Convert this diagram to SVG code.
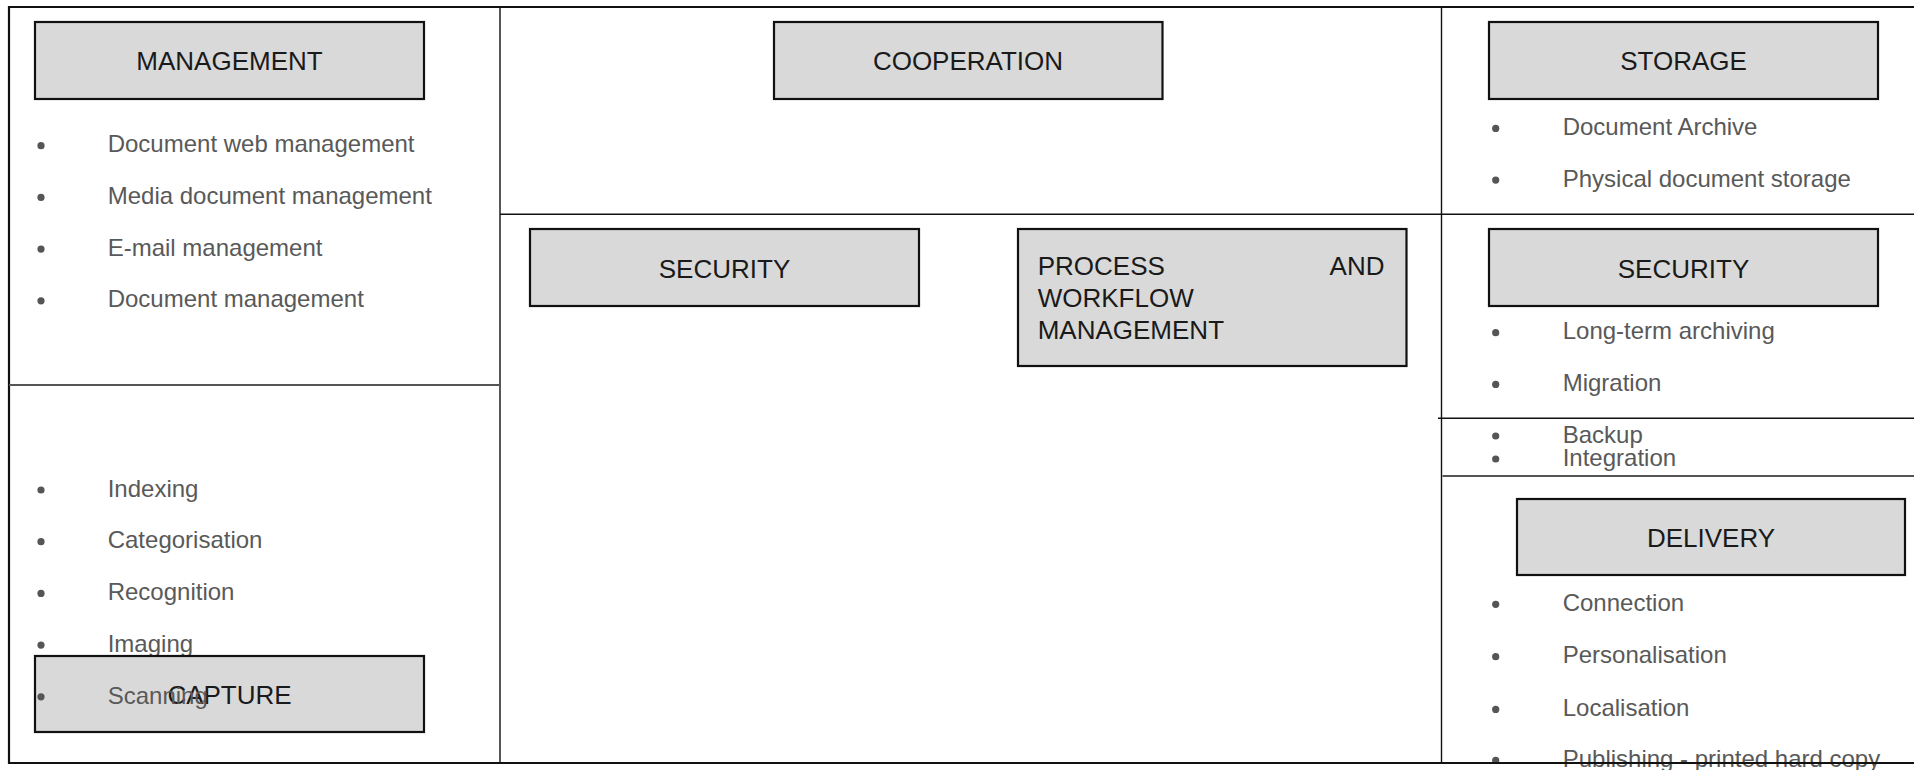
<svg xmlns="http://www.w3.org/2000/svg" width="1914" height="770" viewBox="0 0 1914 770">
<style>
.box{fill:#d9d9d9;stroke:#111;stroke-width:2.2}
.title{font-family:"Liberation Sans",Arial,sans-serif;font-size:26px;fill:#1a1a1a}
.item{font-family:"Liberation Sans",Arial,sans-serif;font-size:24px;fill:#595959}
.dot{fill:#555}
.ln{stroke:#111;stroke-width:1.4;fill:none}
.lg{stroke:#555;stroke-width:1.8;fill:none}
</style>
<rect width="1914" height="770" fill="#fff"/>
<g id="frame">
<path d="M1920 7 H9 V763 H1920" fill="none" stroke="#111" stroke-width="2.2"/>
<line class="ln" x1="500" y1="7" x2="500" y2="763"/>
<line class="ln" x1="1441.5" y1="7" x2="1441.5" y2="763"/>
<line class="lg" x1="9" y1="385" x2="500" y2="385"/>
<line class="ln" x1="500" y1="214.3" x2="1914" y2="214.3"/>
<line class="ln" x1="1438" y1="418.3" x2="1914" y2="418.3"/>
<line class="lg" x1="1442.5" y1="476" x2="1914" y2="476"/>
</g>
<g id="management">
<rect class="box" x="35" y="22" width="389" height="77"/>
<text class="title" x="229.5" y="70.3" text-anchor="middle">MANAGEMENT</text>
<g class="dot"><circle cx="41" cy="145.7" r="3.6"/><circle cx="41" cy="197.4" r="3.6"/><circle cx="41" cy="249.1" r="3.6"/><circle cx="41" cy="300.8" r="3.6"/></g>
<text class="item" x="107.7" y="152.3">Document web management</text>
<text class="item" x="107.7" y="204">Media document management</text>
<text class="item" x="107.7" y="255.7">E-mail management</text>
<text class="item" x="107.7" y="307.4">Document management</text>
</g>
<g id="capture">
<g class="dot"><circle cx="41" cy="490" r="3.6"/><circle cx="41" cy="541.7" r="3.6"/><circle cx="41" cy="593.4" r="3.6"/><circle cx="41" cy="645.1" r="3.6"/></g>
<text class="item" x="107.7" y="496.7">Indexing</text>
<text class="item" x="107.7" y="548.4">Categorisation</text>
<text class="item" x="107.7" y="600.1">Recognition</text>
<text class="item" x="107.7" y="651.8">Imaging</text>
<rect class="box" x="35" y="656" width="389" height="76"/>
<text class="title" x="229.5" y="704" text-anchor="middle">CAPTURE</text>
<circle class="dot" cx="41" cy="696.8" r="3.6"/>
<text class="item" x="107.7" y="703.5">Scanning</text>
</g>
<g id="cooperation">
<rect class="box" x="774" y="22" width="388.5" height="77"/>
<text class="title" x="968" y="70.3" text-anchor="middle">COOPERATION</text>
</g>
<g id="security-mid">
<rect class="box" x="530" y="229" width="389" height="77"/>
<text class="title" x="724.5" y="277.5" text-anchor="middle">SECURITY</text>
</g>
<g id="process">
<rect class="box" x="1018" y="229" width="388.5" height="137"/>
<text class="title" x="1037.7" y="275">PROCESS</text>
<text class="title" x="1384.5" y="275" text-anchor="end">AND</text>
<text class="title" x="1037.7" y="306.5">WORKFLOW</text>
<text class="title" x="1037.7" y="338.5">MANAGEMENT</text>
</g>
<g id="storage">
<rect class="box" x="1489" y="22" width="389" height="77"/>
<text class="title" x="1683.5" y="70.3" text-anchor="middle">STORAGE</text>
<g class="dot"><circle cx="1495.7" cy="128.4" r="3.6"/><circle cx="1495.7" cy="180.1" r="3.6"/></g>
<text class="item" x="1562.7" y="135">Document Archive</text>
<text class="item" x="1562.7" y="186.7">Physical document storage</text>
</g>
<g id="security-right">
<rect class="box" x="1489" y="229" width="389" height="77"/>
<text class="title" x="1683.5" y="277.5" text-anchor="middle">SECURITY</text>
<g class="dot"><circle cx="1495.7" cy="332.7" r="3.6"/><circle cx="1495.7" cy="384.4" r="3.6"/><circle cx="1495.7" cy="436" r="3.6"/><circle cx="1495.7" cy="459" r="3.6"/></g>
<text class="item" x="1562.7" y="339.3">Long-term archiving</text>
<text class="item" x="1562.7" y="391">Migration</text>
<text class="item" x="1562.7" y="442.7">Backup</text>
<text class="item" x="1562.7" y="465.7">Integration</text>
</g>
<g id="delivery">
<rect class="box" x="1517" y="499" width="388" height="76"/>
<text class="title" x="1711" y="547" text-anchor="middle">DELIVERY</text>
<g class="dot"><circle cx="1495.7" cy="604.3" r="3.6"/><circle cx="1495.7" cy="656.7" r="3.6"/><circle cx="1495.7" cy="709.4" r="3.6"/><circle cx="1495.7" cy="760.3" r="3.6"/></g>
<text class="item" x="1562.7" y="611">Connection</text>
<text class="item" x="1562.7" y="663.4">Personalisation</text>
<text class="item" x="1562.7" y="716">Localisation</text>
<text class="item" x="1562.7" y="767">Publishing - printed hard copy</text>
<line x1="1442" y1="763" x2="1914" y2="763" stroke="#111" stroke-width="2.2"/>
</g>
</svg>
